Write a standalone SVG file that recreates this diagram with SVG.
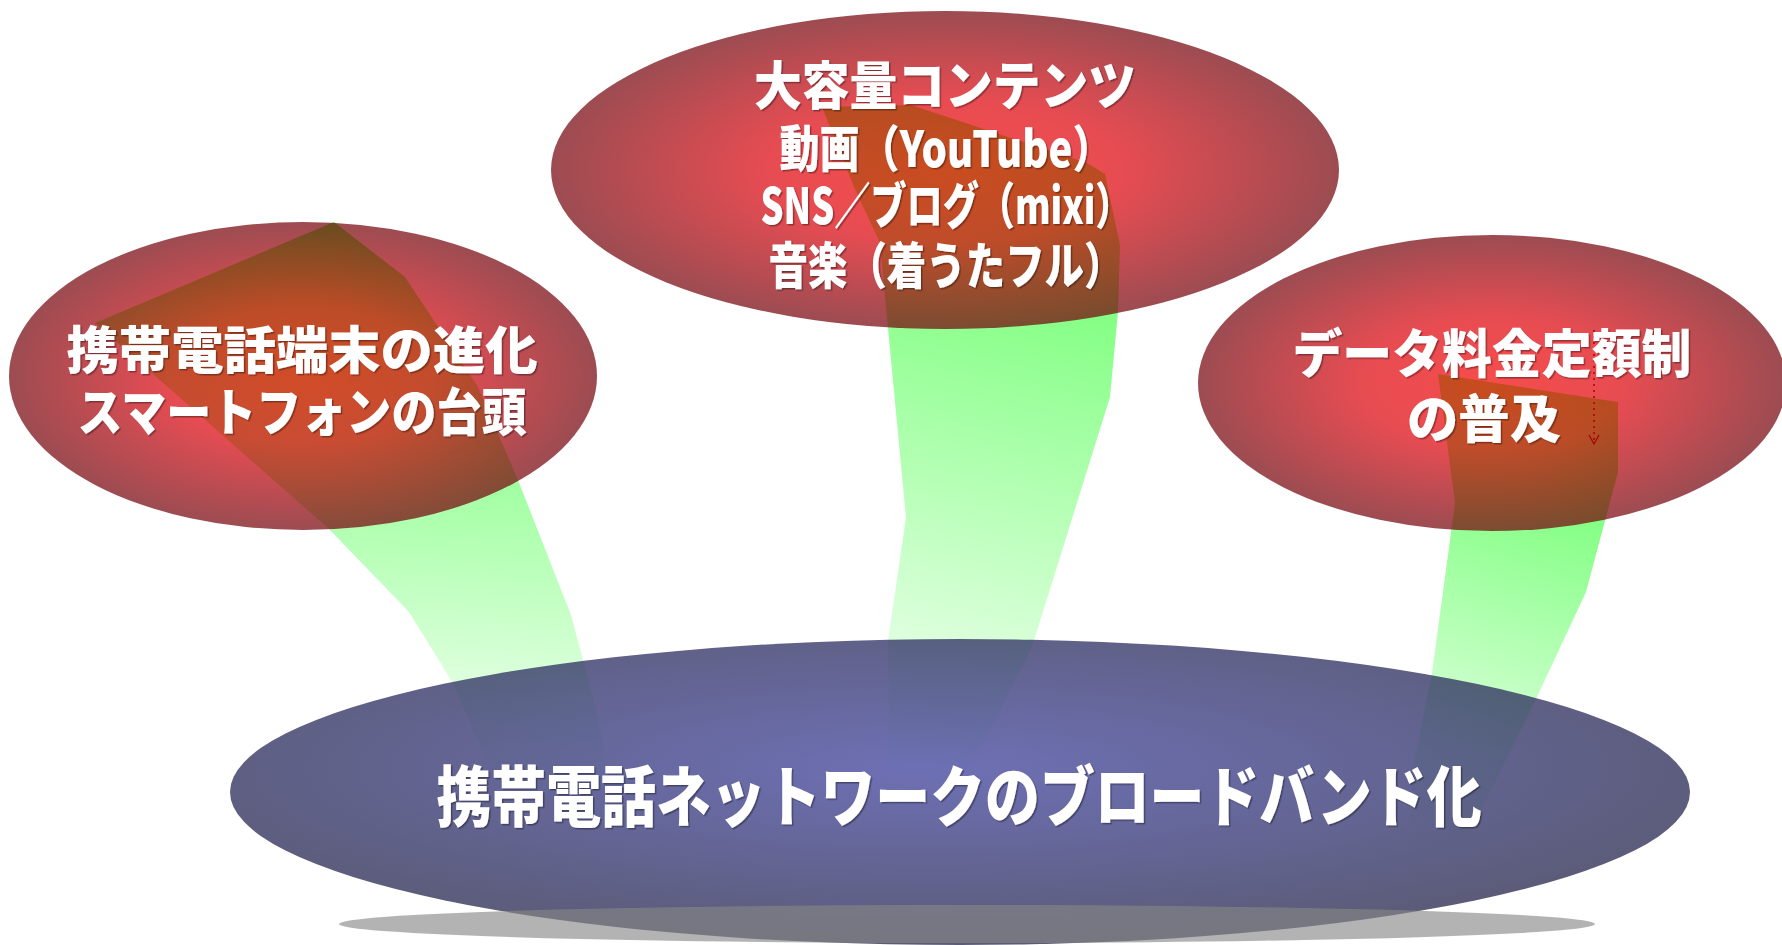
<svg xmlns="http://www.w3.org/2000/svg" width="1782" height="945" viewBox="0 0 1782 945">
<defs>
<style>
.lbl{font-family:"Noto Sans CJK JP","Noto Sans CJK SC",sans-serif;font-weight:900;fill:#ffffff;text-anchor:middle;filter:url(#ts)}
.red{fill:url(#gRed);fill-opacity:0.7}
.beam{stroke:none}
</style>
<radialGradient id="gRed" cx="0.5" cy="0.5" r="0.5">
<stop offset="0" stop-color="#f20000"/>
<stop offset="0.45" stop-color="#dc0008"/>
<stop offset="1" stop-color="#720008"/>
</radialGradient>
<radialGradient id="gBlue" cx="0.48" cy="0.42" r="0.56">
<stop offset="0" stop-color="#3d409c"/>
<stop offset="1" stop-color="#25254d"/>
</radialGradient>
<linearGradient id="gBeamL" gradientUnits="userSpaceOnUse" x1="430" y1="222" x2="390" y2="790">
<stop offset="0" stop-color="#55ff55"/>
<stop offset="1" stop-color="#ffffff"/>
</linearGradient>
<linearGradient id="gBeamT" gradientUnits="userSpaceOnUse" x1="1060" y1="105" x2="900" y2="780">
<stop offset="0" stop-color="#55ff55"/>
<stop offset="1" stop-color="#ffffff"/>
</linearGradient>
<linearGradient id="gBeamR" gradientUnits="userSpaceOnUse" x1="1600" y1="374" x2="1440" y2="853">
<stop offset="0" stop-color="#55ff55"/>
<stop offset="1" stop-color="#ffffff"/>
</linearGradient>
<filter id="ts" x="-5%" y="-20%" width="110%" height="140%">
<feDropShadow dx="1.5" dy="1.5" stdDeviation="0.6" flood-color="#000000" flood-opacity="0.35"/>
</filter>
<marker id="vhead" markerWidth="12" markerHeight="14" refX="10" refY="6" orient="auto" markerUnits="userSpaceOnUse" viewBox="0 0 12 12">
<path d="M1 1 L10 6 L1 11" fill="none" stroke="#3a0000" stroke-width="1.2"/>
</marker>
</defs>
<rect width="1782" height="945" fill="#ffffff"/>
<g id="connectors">
<polygon class="beam" fill="url(#gBeamL)" points="334,222 405,277 478,387 518,480 571,615 583,660 597,713 612,790 500,790 451,680 409,612 328,528 95,323"/>
<polygon class="beam" fill="url(#gBeamT)" points="822,107 911,105 1087,163 1105,174 1120,245 1118,312 1110,397 1032,647 990,730 960,780 890,780 888,640 906,518 888,328 880,243 854,187"/>
<polygon class="beam" fill="url(#gBeamR)" points="1438,374 1618,402 1618,472 1586,592 1537,697 1460,853 1410,840 1413,767 1432,673 1455,503"/>
<line x1="1594" y1="330" x2="1594" y2="444" stroke="#3a0000" stroke-width="1.5" stroke-dasharray="2 4" marker-end="url(#vhead)"/>
</g>
<g id="node-left">
<ellipse class="red" cx="303" cy="376" rx="294" ry="154"/>
<text class="lbl" font-size="51"><tspan x="302" y="369" textLength="471" lengthAdjust="spacingAndGlyphs">携帯電話端末の進化</tspan><tspan x="302" y="431" textLength="449" lengthAdjust="spacingAndGlyphs">スマートフォンの台頭</tspan></text>
</g>
<g id="node-top">
<ellipse class="red" cx="945" cy="170" rx="394" ry="159"/>
<text class="lbl" font-size="50"><tspan x="945" y="105" font-size="52" textLength="382" lengthAdjust="spacingAndGlyphs">大容量コンテンツ</tspan><tspan x="946" y="167" textLength="333" lengthAdjust="spacingAndGlyphs">動画（YouTube）</tspan><tspan x="946" y="224" textLength="371" lengthAdjust="spacingAndGlyphs">SNS／ブログ（mixi）</tspan><tspan x="946" y="284" textLength="355" lengthAdjust="spacingAndGlyphs">音楽（着うたフル）</tspan></text>
</g>
<g id="node-right">
<ellipse class="red" cx="1492" cy="383" rx="294" ry="148"/>
<text class="lbl" font-size="52"><tspan x="1492" y="373" textLength="399" lengthAdjust="spacingAndGlyphs">データ料金定額制</tspan><tspan x="1484" y="438" textLength="154" lengthAdjust="spacingAndGlyphs">の普及</tspan></text>
</g>
<g id="node-bottom">
<ellipse cx="960" cy="792" rx="730" ry="153" fill="url(#gBlue)" fill-opacity="0.75"/>
<ellipse cx="967" cy="924" rx="628" ry="19" fill="#868686" fill-opacity="0.63"/>
<text class="lbl" x="959" y="821" font-size="66" textLength="1045" lengthAdjust="spacingAndGlyphs">携帯電話ネットワークのブロードバンド化</text>
</g>
</svg>
